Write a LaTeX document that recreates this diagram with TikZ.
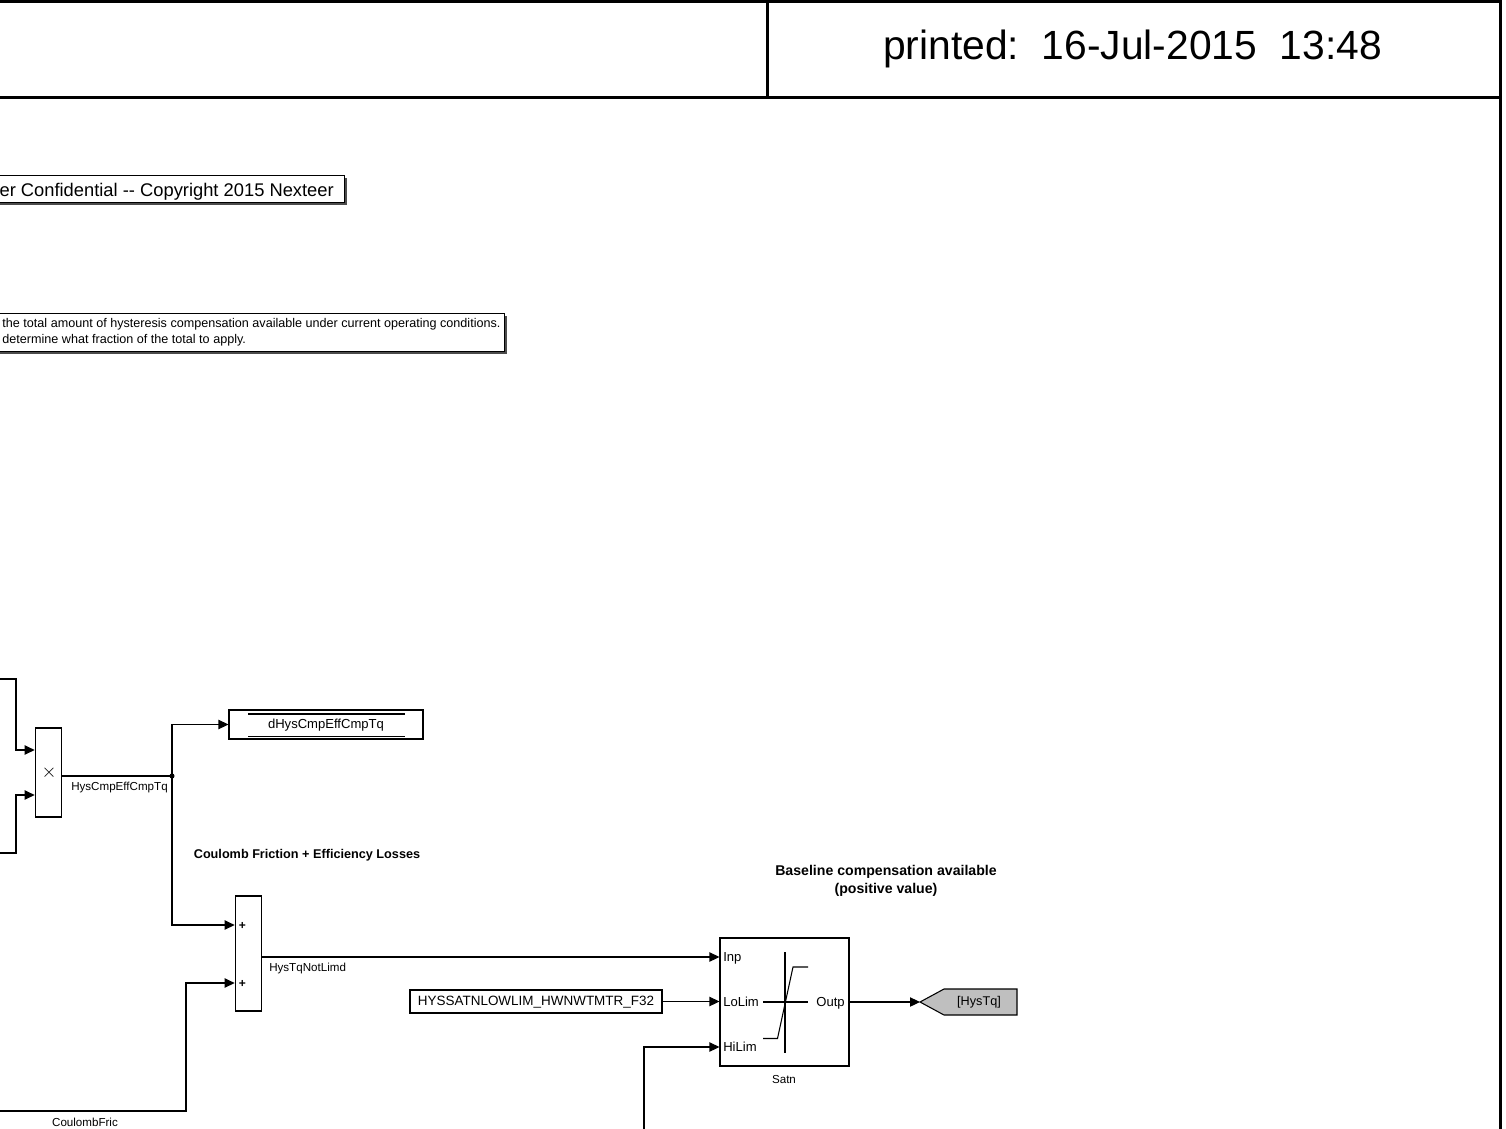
\documentclass[tikz,border=0pt]{standalone}
\usepackage{fontspec}
\setmainfont{Liberation Sans}
\usetikzlibrary{arrows.meta,shadows}
\tikzset{
    wire/.style={line width=0.8pt, -{Triangle[length=7.5pt,width=7pt]}},
    plainwire/.style={line width=0.8pt},
    block/.style={draw, line width=0.8pt, minimum width=19.5pt, inner sep=0pt},
    sig/.style={font=\fontsize{8.7}{10}\selectfont, inner sep=0pt, text height=6.5pt, text depth=2pt},
    port/.style={font=\fontsize{9.8}{11}\selectfont, inner sep=0pt, text height=8pt, text depth=2pt},
    title/.style={font=\fontsize{9.5}{13.5}\selectfont\bfseries, inner sep=0pt, align=center},
    note/.style={draw, fill=white, line width=0.8pt, drop shadow={shadow xshift=2pt, shadow yshift=-2pt, opacity=1, fill=black!70}}
}
\begin{document}
\begin{tikzpicture}[x=0.75pt, y=-0.75pt]
    \useasboundingbox (0,0) rectangle (1506,1128);
    \clip (0,0) rectangle (1506,1128);
    % title frame
    \draw[line width=2.25pt](-5,1)--(1500,1)--(1500,1133);
    \draw[line width=2.25pt](-5,97)--(1500,97);
    \draw[line width=2.25pt](767,1)--(767,97);
    \node[inner sep=0pt, font=\fontsize{30.6}{36}\selectfont] (printed) at (1132.5,49) {printed:\ \ 16-Jul-2015\ \ 13:48};
    % notes
    \node[note, anchor=east, inner xsep=8pt, inner ysep=3pt, minimum height=20.5pt, text height=10.5pt, text depth=0pt, font=\fontsize{13.75}{15}\selectfont] (confid) at (345,189) {er Confidential -{}- Copyright 2015 Nexteer};
    \node[note, anchor=east, align=left, inner xsep=3pt, inner ysep=3.5pt, font=\fontsize{9.45}{12.5}\selectfont] (descr) at (505,332.3) {\hspace*{6pt}the total amount of hysteresis compensation available under current operating conditions.\\\hspace*{6pt}determine what fraction of the total to apply.};
    % blocks
    \node[block, minimum height=66.75pt] (prod) at (48.2,772.5) {};
    \node[font=\fontsize{14}{14}\selectfont, inner sep=0pt] (times) at (49,773) {$\times$};
    \node[block, minimum height=86.25pt] (add) at (248.2,953.5) {};
    \node[port, font=\bfseries\fontsize{9}{10}\selectfont] (plusa) at (242.5,925) {+};
    \node[port, font=\bfseries\fontsize{9}{10}\selectfont] (plusb) at (242.5,983) {+};
    \node[draw, line width=0.8pt, minimum width=145.5pt, minimum height=21.75pt, inner sep=0pt, port] (dhys) at (326,724.5) {dHysCmpEffCmpTq};
    \draw[line width=0.8pt](248,714)--(405,714);
    \draw[line width=0.8pt](248,736.5)--(405,736.5);
    \node[draw, line width=0.8pt, minimum width=189pt, minimum height=17.25pt, inner sep=0pt, port, font=\fontsize{10.1}{11}\selectfont] (lolimk) at (536,1001.5) {HYSSATNLOWLIM\_HWNWTMTR\_F32};
    \node[block, minimum width=96.75pt, minimum height=96pt] (satn) at (784.5,1002) {};
    \node[port, anchor=west] (inp) at (723,957) {Inp};
    \node[port, anchor=west] (lolim) at (723,1002) {LoLim};
    \node[port, anchor=west] (hilim) at (723,1047) {HiLim};
    \node[port, anchor=east] (outp) at (845,1002) {Outp};
    \node[sig] (satnlbl) at (784,1080) {Satn};
    % saturation icon
    \draw[plainwire](785,952)--(785,1053);
    \draw[plainwire](763,1002)--(808,1002);
    \draw[plainwire](763,1038.5)--(777.5,1038.5)--(793,967)--(808,967);
    % goto
    \draw[fill=black!25, line width=0.8pt](920,1002)--(944,989)--(1017,989)--(1017,1015)--(944,1015)--cycle;
    \coordinate (gotoin) at (920,1002);
    \node[port, font=\fontsize{9.5}{11}\selectfont] (goto) at (979,1001) {[HysTq]};
    % wires
    \coordinate (juncA) at (172,776);
    \coordinate (inA) at (-5,679);
    \coordinate (inB) at (-5,853);
    \coordinate (inC) at (-5,1111);
    \coordinate (inD) at (644,1133);
    \draw[wire](inA)-|(16,750)--(prod.west|-0,750);
    \draw[wire](inB)-|(16,795)--(prod.west|-0,795);
    \draw[plainwire](prod.east|-juncA)--(juncA);
    \fill (juncA) circle (1.9pt);
    \draw[wire](juncA)|-(dhys.west);
    \draw[wire](juncA)|-(add.west|-0,925);
    \draw[wire](inC)-|(186,983)--(add.west|-0,983);
    \draw[wire](add.east|-0,957)--(satn.west|-0,957);
    \draw[wire](lolimk.east)--(satn.west|-lolimk.east);
    \draw[wire](inD)|-(satn.west|-0,1047);
    \draw[wire](satn.east|-gotoin)--(gotoin);
    % signal labels
    \node[sig, anchor=west] (lblprod) at (71,787.5) {HysCmpEffCmpTq};
    \node[sig, anchor=west] (lbladd) at (269,968) {HysTqNotLimd};
    \node[sig] (lblfric) at (85,1123) {CoulombFric};
    \node[title] (ttlfric) at (307,855.5) {Coulomb Friction + Efficiency Losses};
    \node[title, font=\fontsize{10.6}{13.5}\selectfont\bfseries] (ttlbase) at (886,880.5) {Baseline compensation available\\(positive value)};
\end{tikzpicture}
\end{document}
